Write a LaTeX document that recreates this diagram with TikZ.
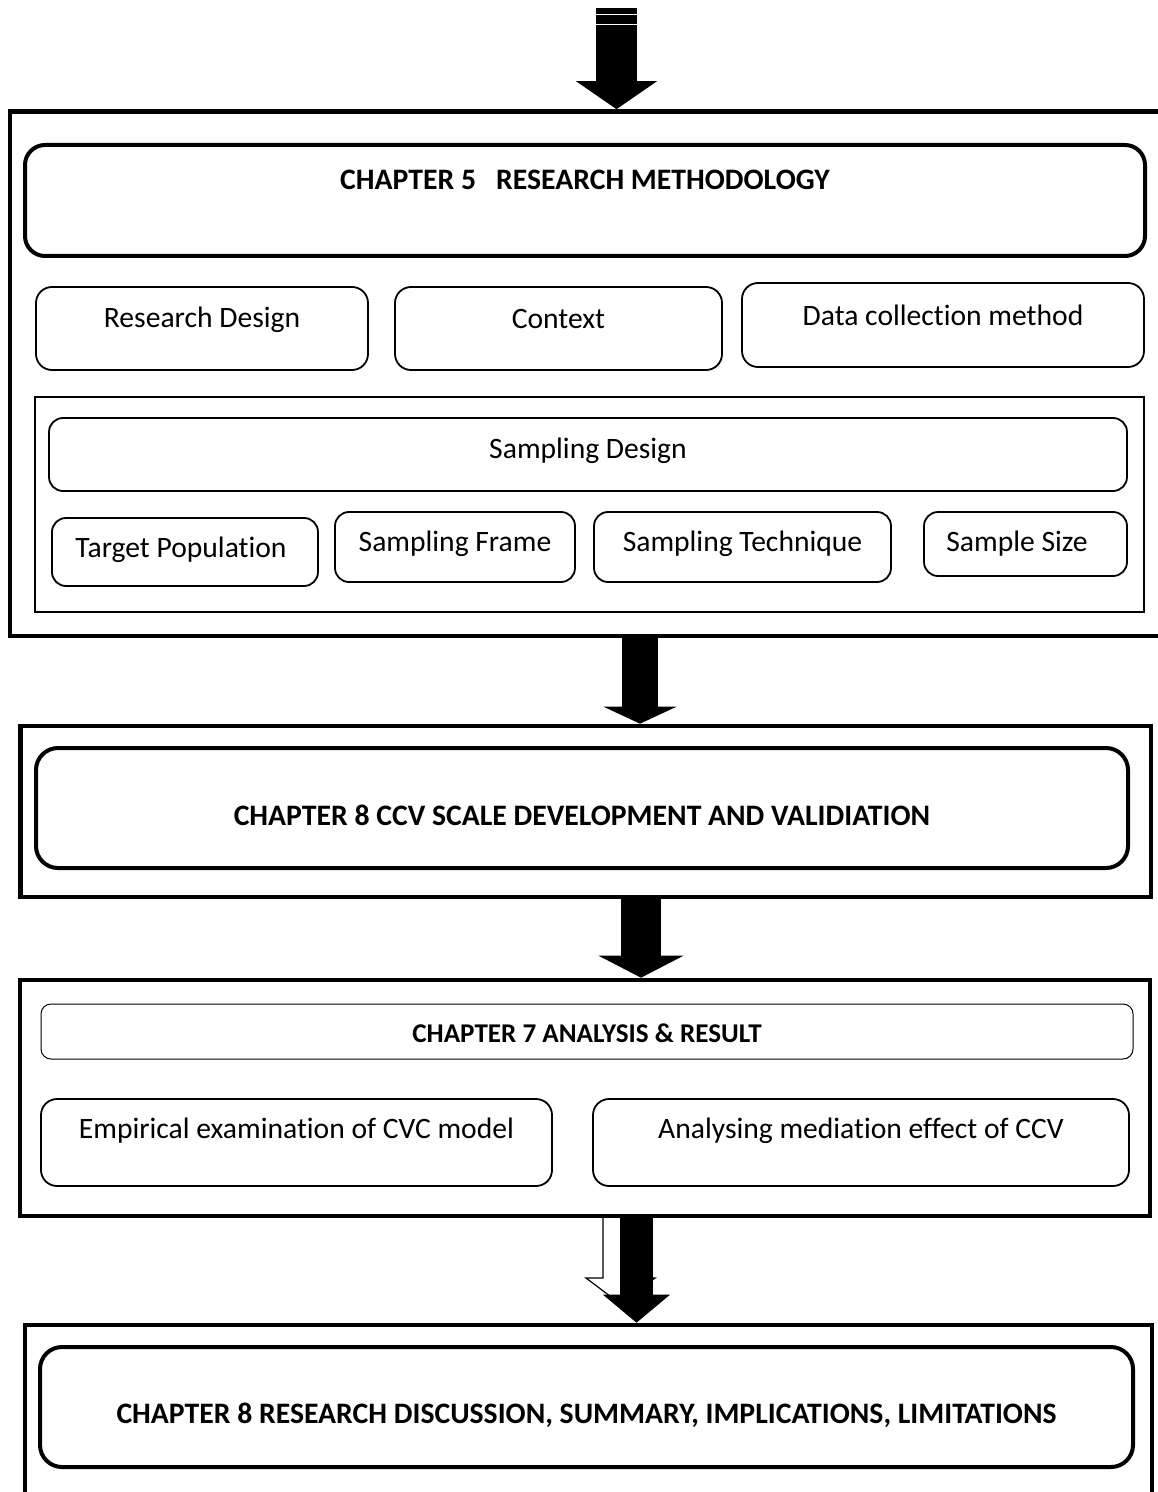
\documentclass[tikz,border=0pt]{standalone}
\usepackage{fontspec}
\setmainfont{Carlito}[Ligatures=NoCommon]
\usetikzlibrary{positioning, arrows.meta, fit}

\tikzset{
  frame/.style={draw, line width=2.3pt, inner sep=0pt},
  titlebox/.style={draw, line width=2pt, rounded corners=10pt, inner sep=0pt},
  subbox/.style={draw, line width=0.9pt, rounded corners=8pt, inner sep=0pt},
  thinbox/.style={draw, line width=0.5pt, rounded corners=5pt, inner sep=0pt},
  plainbox/.style={draw, line width=0.8pt, inner sep=0pt},
  txt/.style={font=\fontsize{14.8}{17}\selectfont, inner sep=0pt},
  headtxt/.style={font=\fontsize{14.85}{17}\selectfont\bfseries, inner sep=0pt},
  bigarrow/.style n args={4}{line width=#1,
    -{Triangle[width=#2, length=#3, line width=0pt]}, shorten <=#4}
}

\begin{document}
\begin{tikzpicture}[x=0.5pt, y=-0.5pt]
  \useasboundingbox (0,0) rectangle (1157,1492);

  % outer frames
  \node[frame, fit={(10,111.5) (1175,636)}] (f1) {};
  \node[frame, fit={(20.5,726) (1151,897)}] (f2) {};
  \node[frame, fit={(20,980) (1150,1216)}] (f3) {};
  \node[frame, fit={(25,1325) (1152,1515)}] (f4) {};

  % chapter 5
  \node[titlebox, fit={(25,145) (1145,256)},
        label={[headtxt, yshift=10.25pt]center:CHAPTER 5~~~RESEARCH METHODOLOGY}] (ch5) {};
  \node[subbox, fit={(36,287) (368,370)},
        label={[txt, yshift=4.5pt]center:Research Design}] (rd) {};
  \node[subbox, fit={(395,287) (722,370)},
        label={[txt, yshift=4.5pt]center:Context}] (ctx) {};
  \node[subbox, fit={(742,283) (1144,367)},
        label={[txt, yshift=5pt]center:Data collection method}] (dcm) {};

  \node[plainbox, fit={(35,397) (1144,612)}] (samp) {};
  \node[subbox, rounded corners=7pt, fit={(49,418) (1127,491)},
        label={[txt, yshift=2pt]center:Sampling Design}] (sd) {};
  \node[subbox, rounded corners=7pt, fit={(52,518) (318,586)},
        label={[txt, xshift=-2pt, yshift=1pt]center:Target Population}] (tp) {};
  \node[subbox, rounded corners=7pt, fit={(335,512) (575,582)},
        label={[txt, yshift=1.5pt]center:Sampling Frame}] (sf) {};
  \node[subbox, rounded corners=7pt, fit={(594,512) (891,582)},
        label={[txt, yshift=1.5pt]center:Sampling Technique}] (st) {};
  \node[subbox, rounded corners=7pt, fit={(924,512) (1127,576)},
        label={[txt, xshift=-4.25pt]center:Sample Size}] (ss) {};

  % chapter 8 scale
  \node[titlebox, rounded corners=11pt, fit={(36,748) (1128,868)},
        label={[headtxt, yshift=-3.5pt]center:CHAPTER 8 CCV SCALE DEVELOPMENT AND VALIDIATION}] (ccv) {};

  % chapter 7
  \node[thinbox, fit={(41,1004) (1133,1059)},
        label={[headtxt, font=\fontsize{13.55}{16}\selectfont\bfseries, yshift=-0.75pt]center:CHAPTER 7 ANALYSIS \& RESULT}] (ch7) {};
  \node[subbox, fit={(41,1099) (552,1186)},
        label={[txt, yshift=5.75pt]center:Empirical examination of CVC model}] (emp) {};
  \node[subbox, fit={(593,1099) (1129,1186)},
        label={[txt, yshift=5.75pt]center:Analysing mediation effect of CCV}] (ana) {};

  % chapter 8 discussion
  \node[titlebox, rounded corners=11pt, fit={(40,1347) (1133,1467)},
        label={[headtxt, yshift=-4pt]center:CHAPTER 8 RESEARCH DISCUSSION, SUMMARY, IMPLICATIONS, LIMITATIONS}] (ch8) {};

  % block arrows
  \coordinate (a1) at (616.5,8);
  \coordinate (a2) at (640,0);
  \coordinate (a3) at (641,0);
  \coordinate (a4) at (636.5,0);

  \draw[bigarrow={20.5pt}{40.5pt}{14pt}{0pt}] (a1) -- (a1 |- f1.north);
  \draw[white, line width=0.5pt] (596,14.5) -- (637,14.5);
  \draw[white, line width=0.5pt] (596,24.5) -- (637,24.5);
  \draw[bigarrow={18pt}{36.5pt}{8.5pt}{0pt}] (a2 |- f1.south) -- (a2 |- f2.north);
  \draw[bigarrow={20pt}{42.5pt}{11pt}{0pt}] (a3 |- f2.south) -- (a3 |- f3.north);
  \draw[fill=white, line width=0.6pt]
    (603,1218) -- (603,1278) -- (586,1278) -- (620.5,1304)
    -- (655,1278) -- (637,1278) -- (637,1218);
  \draw[bigarrow={16.5pt}{33.5pt}{14pt}{0pt}] (a4 |- f3.south) -- (a4 |- f4.north);
\end{tikzpicture}
\end{document}
